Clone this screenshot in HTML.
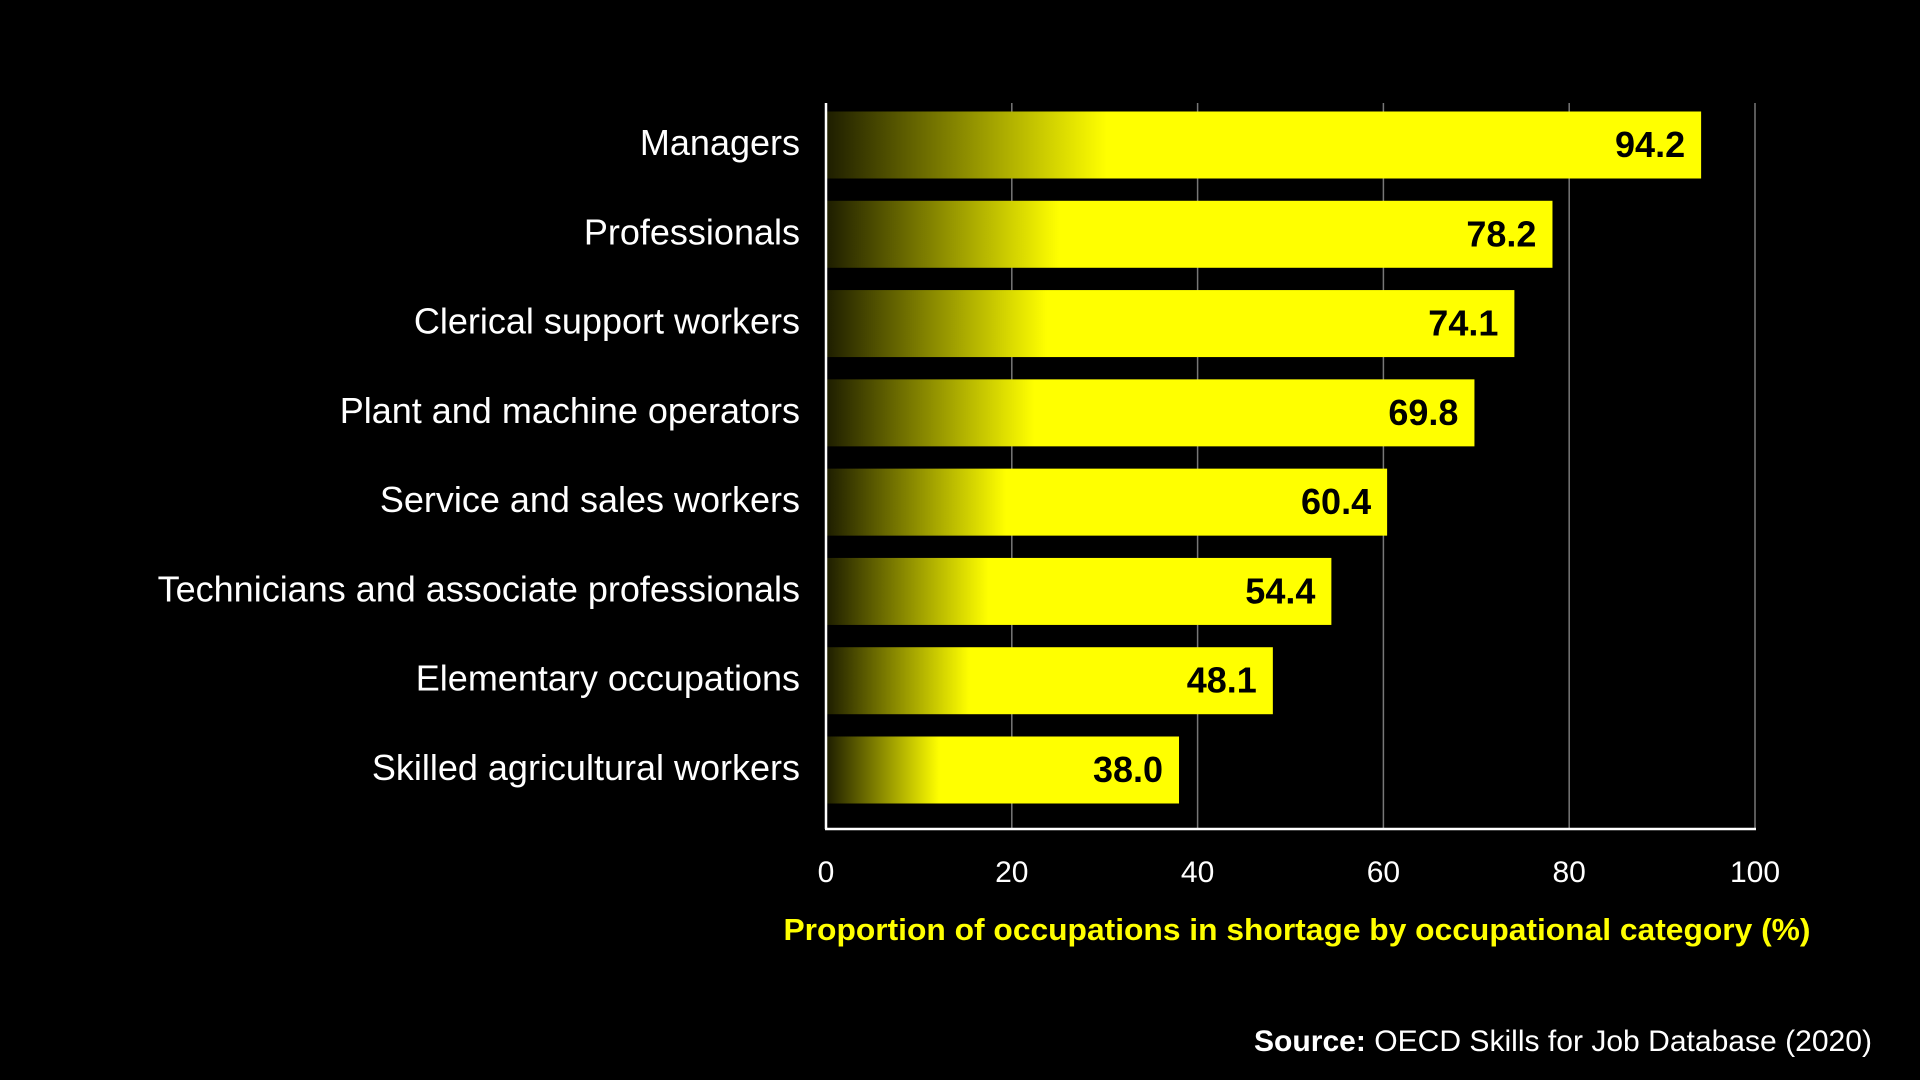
<!DOCTYPE html>
<html><head><meta charset="utf-8"><style>
html,body{margin:0;padding:0;background:#000;}
svg{display:block;font-family:"Liberation Sans",sans-serif;}
</style></head><body>
<svg id="chart" width="1920" height="1080" viewBox="0 0 1920 1080" xmlns="http://www.w3.org/2000/svg">
<defs>
<linearGradient id="fade" x1="0" y1="0" x2="1" y2="0">
<stop offset="0" stop-color="#1e1e00"/>
<stop offset="0.32" stop-color="#ffff00"/>
<stop offset="1" stop-color="#ffff00"/>
</linearGradient>
</defs>
<g id="grid"></g>
<g id="bars"></g>
<g id="labels"></g>
<g id="ticks"></g>
<line x1="826" y1="103" x2="826" y2="829" stroke="#fff" stroke-width="2.5"/>
<line x1="825" y1="829" x2="1756" y2="829" stroke="#fff" stroke-width="2.5"/>
<text x="1297" y="940" text-anchor="middle" fill="#ffff00" font-weight="bold" font-size="31" textLength="1027" lengthAdjust="spacingAndGlyphs">Proportion of occupations in shortage by occupational category (%)</text>
<text x="1872" y="1051" text-anchor="end" fill="#fff" font-size="30" textLength="618" lengthAdjust="spacingAndGlyphs"><tspan font-weight="bold">Source:</tspan> OECD Skills for Job Database (2020)</text>
</svg>
<script>
const categories = ["Managers","Professionals","Clerical support workers","Plant and machine operators","Service and sales workers","Technicians and associate professionals","Elementary occupations","Skilled agricultural workers"];
const values = [94.2,78.2,74.1,69.8,60.4,54.4,48.1,38.0];
const tickValues = [0,20,40,60,80,100];
const tickLabels = ["0","20","40","60","80","100"];

const NS = "http://www.w3.org/2000/svg";
const x0 = 826, x1 = 1755, yTop = 145, yBottom = 770, barH = 67;
function xScale(v){ return x0 + (v/100)*(x1-x0); }
function yScale(i){ return yTop + i*(yBottom-yTop)/(categories.length-1); }
function mk(tag, attrs, parent){ const e=document.createElementNS(NS,tag); for(const k in attrs) e.setAttribute(k,attrs[k]); parent.appendChild(e); return e; }

const grid=document.getElementById('grid'), bars=document.getElementById('bars'), labels=document.getElementById('labels'), ticks=document.getElementById('ticks');
tickValues.forEach((t,i)=>{
  if(t>0){
    const g=mk('line',{x1:xScale(t),x2:xScale(t),y1:103,y2:829,stroke:'#777','stroke-width':1.5},grid);
    
    
  }
  const tl=mk('text',{x:xScale(t),y:882,'text-anchor':'middle',fill:'#fff','font-size':30},ticks);
  tl.textContent=tickLabels[i];
  
  
});
categories.forEach((c,i)=>{
  const cy=yScale(i), v=values[i];
  const r=mk('rect',{x:x0+1,y:cy-barH/2,width:xScale(v)-x0-1,height:barH,fill:'url(#fade)'},bars);
  
  
  const vt=mk('text',{x:xScale(v)-16,y:cy+12,'text-anchor':'end',fill:'#000','font-weight':'bold','font-size':36},bars);
  vt.textContent=v.toFixed(1);
  
  
  const lt=mk('text',{x:800,y:cy+10,'text-anchor':'end',fill:'#fff','font-size':36},labels);
  lt.textContent=c;
  
  
});
</script>
</body></html>
